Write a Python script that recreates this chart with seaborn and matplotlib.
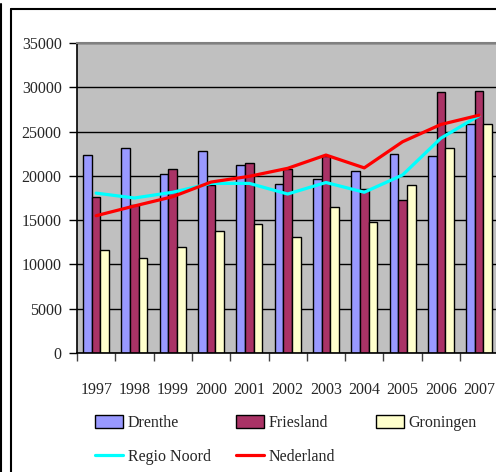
import numpy as np
import pandas as pd
import matplotlib
matplotlib.use("Agg")
import matplotlib.pyplot as plt
from matplotlib.patches import Patch
from matplotlib.lines import Line2D
import seaborn as sns

years = ["1997", "1998", "1999", "2000", "2001", "2002", "2003", "2004", "2005", "2006", "2007"]
drenthe = [22400, 23200, 20250, 22850, 21250, 19100, 19600, 20600, 22500, 22200, 25850]
friesland = [17650, 16700, 20750, 19000, 21400, 20750, 22250, 18500, 17300, 29450, 29600]
groningen = [11650, 10700, 12000, 13750, 14600, 13150, 16500, 14750, 18950, 23200, 25850]
regio_noord = [18050, 17500, 18150, 19150, 19150, 17950, 19250, 18150, 20100, 24250, 26800]
nederland = [15500, 16600, 17650, 19300, 19950, 20850, 22350, 20900, 23850, 25800, 26850]

regions = ["Drenthe", "Friesland", "Groningen"]
colors = {"Drenthe": "#9999FF", "Friesland": "#AA3366", "Groningen": "#FFFFCC"}
line_colors = {"Regio Noord": "#00FFFF", "Nederland": "#FF0000"}

bars = pd.DataFrame({
    "year": years * 3,
    "region": [r for r in regions for _ in years],
    "value": drenthe + friesland + groningen,
})

sns.set_style("ticks")
plt.rcParams["font.family"] = ["Liberation Serif", "DejaVu Serif"]
FS = 11.5

W, H = 496, 472
fig = plt.figure(figsize=(W / 100, H / 100), dpi=100)
ax = fig.add_axes([77 / W, 1 - 353 / H, 421.3 / W, 310 / H])
ax.set_facecolor("#C0C0C0")

sns.barplot(data=bars, x="year", y="value", hue="region", order=years,
            hue_order=regions, palette=colors, width=0.68, saturation=1,
            edgecolor="black", linewidth=1, legend=False, ax=ax, zorder=2)

pos = np.arange(len(years))
sns.lineplot(x=pos, y=regio_noord, color=line_colors["Regio Noord"], lw=2.3,
             ax=ax, zorder=3)
sns.lineplot(x=pos, y=nederland, color=line_colors["Nederland"], lw=2.3,
             ax=ax, zorder=4)

ax.set_xlim(-0.5, len(years) - 0.5)
ax.set_ylim(0, 35000)
ax.set_xlabel("")
ax.set_ylabel("")

ax.set_yticks(np.arange(0, 35001, 5000))
ax.set_yticklabels([str(v) for v in range(0, 35001, 5000)], fontsize=FS)
ax.yaxis.grid(True, color="black", lw=1)
ax.xaxis.grid(False)
ax.set_axisbelow(True)

# category boundaries carry the tick marks, category centres carry the labels
ax.set_xticks(np.arange(-0.5, len(years), 1))
ax.set_xticklabels([])
ax.set_xticks(pos, minor=True)
ax.set_xticklabels(years, minor=True, fontsize=FS)
ax.tick_params(axis="x", which="major", length=6, width=1, color="#404040")
ax.tick_params(axis="x", which="minor", length=0, pad=21)
ax.tick_params(axis="y", length=6, width=1, color="black", pad=5)

for side in ("left", "bottom"):
    ax.spines[side].set_color("black")
    ax.spines[side].set_linewidth(1.2)
ax.spines["top"].set_visible(True)
ax.spines["top"].set_color("#808080")
ax.spines["top"].set_linewidth(1.5)
ax.spines["right"].set_visible(False)

# outer frame
fig.add_artist(Line2D([11 / W, 11 / W], [0, 1 - 9 / H], color="black", lw=1.5,
                      transform=fig.transFigure))
fig.add_artist(Line2D([11 / W, 1], [1 - 9 / H, 1 - 9 / H], color="black", lw=1.5,
                      transform=fig.transFigure))
fig.add_artist(Line2D([0.8 / W, 0.8 / W], [0, 1 - 4 / H], color="black", lw=1.5,
                      transform=fig.transFigure))

# legend entries, laid out in rows below the chart
entries = [
    (Patch(facecolor=colors["Drenthe"], edgecolor="black", lw=1), "Drenthe", 95, 423),
    (Patch(facecolor=colors["Friesland"], edgecolor="black", lw=1), "Friesland", 236, 423),
    (Patch(facecolor=colors["Groningen"], edgecolor="black", lw=1), "Groningen", 376, 423),
    (Line2D([], [], color=line_colors["Regio Noord"], lw=2.3), "Regio Noord", 95, 457),
    (Line2D([], [], color=line_colors["Nederland"], lw=2.3), "Nederland", 236, 457),
]
for handle, label, x, y in entries:
    fig.legend([handle], [label], loc="center left",
               bbox_to_anchor=(x / W, 1 - y / H), frameon=False,
               borderpad=0, borderaxespad=0, fontsize=FS,
               handlelength=1.75, handleheight=0.8, handletextpad=0.3)

fig.savefig("out.png", dpi=100)
